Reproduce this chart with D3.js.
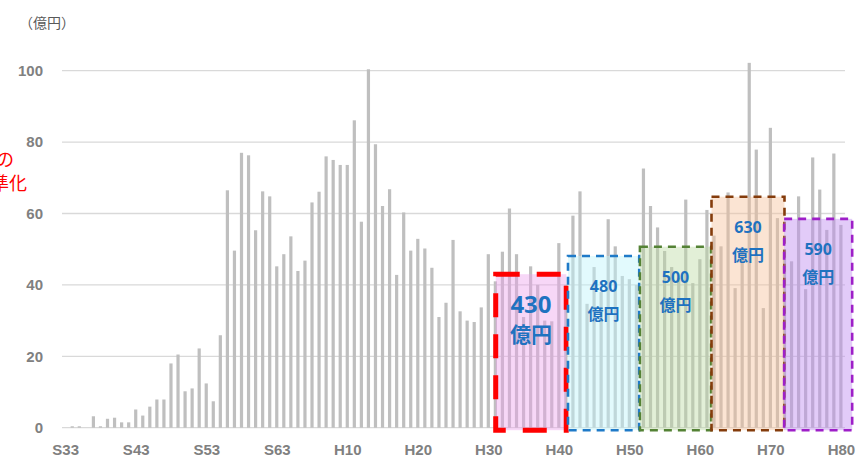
<!DOCTYPE html>
<html lang="ja">
<head>
<meta charset="UTF-8">
<title>更新費用の平準化</title>
<script src="https://d3js.org/d3.v7.min.js"></script>
<style>
  body { margin: 0; background: #fff; }
  svg { display: block; font-family: "Noto Sans", "Noto Sans CJK JP", sans-serif; }
  .tick text { fill: #808080; font-weight: bold; font-size: 15px; }
</style>
</head>
<body>
<svg id="chart" width="861" height="462"></svg>
<script>
// fiscal years S33 (1958) .. H80 (2068)
const eraLabels = d3.range(1958, 2069).map(y => y < 1989 ? "S" + (y - 1925) : "H" + (y - 1988));

// 億円 per year
const amounts = [
  0, 0.4, 0.4, 0, 3.2, 0.4, 2.5, 2.8, 1.5, 1.5,          // S33-S42
  5.1, 3.4, 5.9, 7.9, 7.9, 18.0, 20.5, 10.2, 11.0, 22.2,  // S43-S52
  12.4, 7.4, 25.9, 66.5, 49.6, 77.0, 76.3, 55.3, 66.2, 64.8, // S53-S62
  45.2,                                                     // S63
  48.6, 53.6, 43.9, 46.8, 63.1, 66.1, 76.0, 75.0, 73.6, 73.6, // H1-H10
  86.1, 57.7, 100.4, 79.4, 62.1, 66.8, 42.8, 60.3, 49.6, 52.9, // H11-H20
  50.2, 44.8, 31.0, 35.0, 52.6, 32.6, 30.0, 29.6, 33.7, 48.6, // H21-H30
  41, 49.3, 61.4, 48.6, 31, 45.2, 40.0, 30.0, 29.8, 51.7,     // H31-H40
  40, 59.4, 66.2, 34.7, 45, 38, 58.4, 50.8, 42.5, 41.6,       // H41-H50
  40, 72.6, 62.1, 56.1, 49.5, 45, 42, 63.9, 40.5, 47.2,       // H51-H60
  61.0, 53.8, 50.8, 65.9, 39.1, 50, 102.2, 77.9, 33.5, 84.0,  // H61-H70
  58.7, 50, 46.6, 64.8, 38.8, 75.7, 66.7, 55.4, 76.8, 56.8    // H71-H80
];

const tickLabels = ["S33", "S43", "S53", "S63", "H10", "H20", "H30", "H40", "H50", "H60", "H70", "H80"];
const yTicks = [0, 20, 40, 60, 80, 100];

// ten-year boxes: totals, span (in year index) and level drawn
const boxTotals = ["430", "480", "500", "630", "590"];
const boxFrom = [61.05, 71.3, 81.5, 91.65, 101.95];
const boxTo = [71.05, 81.4, 91.6, 102, 111.6];
const boxLevel = [43, 48.1, 50.7, 64.7, 58.5];

const boxStroke = ["#ff0000", "#1f7ac8", "#548235", "#843c0c", "#9e1fc8"];
const boxFill = ["rgba(236,160,236,0.42)", "rgba(190,244,250,0.45)", "rgba(186,216,160,0.42)",
                 "rgba(246,190,150,0.42)", "rgba(190,140,240,0.45)"];

const svg = d3.select("#chart");
const left = 62, right = 845;

const x = d3.scalePoint().domain(eraLabels).range([65.2, 840.9]);
const xi = d3.scaleLinear().domain([0, eraLabels.length - 1]).range([65.2, 840.9]);
const y = d3.scaleLinear().domain([0, 100]).range([427.7, 70.7]);

// grid
svg.append("g")
  .selectAll("line")
  .data(yTicks)
  .join("line")
  .attr("x1", left).attr("x2", right)
  .attr("y1", d => y(d)).attr("y2", d => y(d))
  .attr("stroke", "#d9d9d9")
  .attr("stroke-width", 1.3);

// y axis
const ya = svg.append("g")
  .attr("transform", `translate(${left},0)`)
  .call(d3.axisLeft(y).tickValues(yTicks).tickSize(0).tickPadding(19));
ya.select(".domain").remove();

// x axis
const xa = svg.append("g")
  .attr("transform", `translate(0,${y(0)})`)
  .call(d3.axisBottom(x).tickValues(tickLabels).tickSize(0).tickPadding(17));
xa.select(".domain").remove();
xa.selectAll(".tick text").attr("dy", "0.72em");

// bars
svg.append("g")
  .selectAll("rect")
  .data(amounts)
  .join("rect")
  .attr("x", (d, i) => x(eraLabels[i]) - 1.6)
  .attr("width", 3.2)
  .attr("y", d => y(d))
  .attr("height", d => y(0) - y(d))
  .attr("fill", "#bfbfbf");

// boxes
const boxes = svg.append("g");
boxTotals.forEach((t, i) => {
  const big = i === 0;
  const x0 = xi(boxFrom[i]), x1 = xi(boxTo[i]);
  const top = y(boxLevel[i]), bottom = y(-0.7);
  boxes.append("rect")
    .attr("x", x0).attr("y", top)
    .attr("width", x1 - x0).attr("height", bottom - top)
    .attr("fill", boxFill[i])
    .attr("stroke", boxStroke[i])
    .attr("stroke-width", big ? 5 : 2.6)
    .attr("stroke-dasharray", big ? "24 17" : "8 6");
  const cx = (x0 + x1) / 2;
  boxes.append("text")
    .attr("x", cx).attr("y", top + (big ? 29 : 30))
    .attr("text-anchor", "middle").attr("dominant-baseline", "central")
    .attr("fill", "#1f72c0").attr("font-weight", "bold")
    .attr("font-size", big ? 24 : 16)
    .text(t);
  boxes.append("text")
    .attr("x", cx).attr("y", top + (big ? 59 : 57))
    .attr("text-anchor", "middle").attr("dominant-baseline", "central")
    .attr("fill", "#1f72c0").attr("font-weight", "bold")
    .attr("font-size", big ? 21 : 16)
    .attr("font-family", "'Noto Sans CJK JP', sans-serif")
    .text("億円");
});

// unit
svg.append("text")
  .attr("x", 19).attr("y", 28)
  .attr("fill", "#595959").attr("font-size", 14)
  .attr("font-family", "'Noto Sans CJK JP', sans-serif")
  .text("（億円）");

// note cut by the left edge, as in the original
const note = svg.append("text")
  .attr("fill", "#ff0000").attr("font-size", 18)
  .attr("font-family", "'Noto Sans CJK JP', sans-serif")
  .attr("text-anchor", "end");
note.append("tspan").attr("x", 14).attr("y", 166).text("更新費用の");
note.append("tspan").attr("x", 27).attr("y", 190).text("平準化");
</script>
</body>
</html>
